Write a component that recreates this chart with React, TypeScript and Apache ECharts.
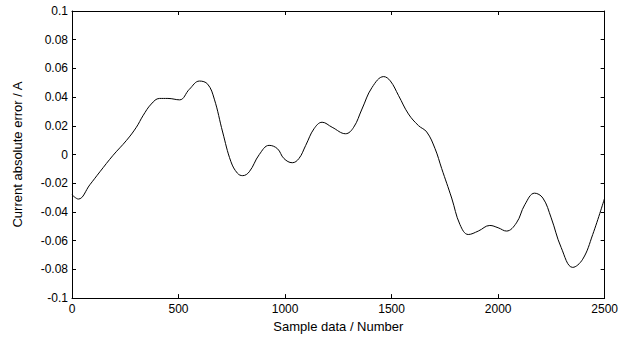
import React, { useEffect, useRef } from "react";
import * as echarts from "echarts";

const sampleIndex = [0, 30, 84, 131, 193, 256, 302, 333, 372, 411, 450, 505, 551, 598, 637, 668, 707, 746, 777, 801, 832, 879, 925, 964, 995, 1034, 1065, 1097, 1136, 1174, 1221, 1284, 1322, 1361, 1408, 1463, 1494, 1533, 1579, 1626, 1665, 1704, 1735, 1782, 1821, 1860, 1907, 1961, 2000, 2039, 2086, 2125, 2171, 2210, 2249, 2296, 2350, 2397, 2444, 2500];
const errorValues = [-0.028, -0.031, -0.021, -0.012, -0.0005, 0.0099, 0.019, 0.027, 0.0352, 0.0391, 0.0391, 0.0381, 0.0455, 0.0512, 0.049, 0.0386, 0.0157, -0.005, -0.0131, -0.0147, -0.012, 0.0, 0.0064, 0.0041, -0.0028, -0.0057, -0.0028, 0.0064, 0.018, 0.0225, 0.019, 0.0145, 0.019, 0.0317, 0.0467, 0.0543, 0.0513, 0.041, 0.0283, 0.0202, 0.0157, 0.0041, -0.0097, -0.0303, -0.0488, -0.0557, -0.0533, -0.0494, -0.051, -0.0533, -0.0476, -0.035, -0.0269, -0.0303, -0.0441, -0.0648, -0.0786, -0.0729, -0.0557, -0.0303];

const xTitle = "Sample data / Number";
const yTitle = "Current absolute error / A";

export default function App() {
  const ref = useRef<HTMLDivElement>(null);
  useEffect(() => {
    if (!ref.current) return;
    const chart = echarts.init(ref.current, null, { renderer: "svg" });
    const font = "'Liberation Sans', Arial, sans-serif";
    const fmtY = (v: number) => parseFloat(v.toFixed(2)).toString();
    const fmtX = (v: number) => String(Math.round(v));
    const axisLine = { show: true, onZero: false, lineStyle: { color: "#000", width: 1 } };
    const tick = { show: true, inside: true, length: 4, lineStyle: { color: "#000" } };
    chart.setOption({
      animation: false,
      backgroundColor: "#fff",
      grid: { left: 72, top: 11, right: 14, bottom: 37, containLabel: false },
      xAxis: [
        {
          type: "value", min: 0, max: 2500, interval: 500, position: "bottom",
          name: xTitle, nameLocation: "middle", nameGap: 20,
          nameTextStyle: { color: "#000", fontSize: 13, fontFamily: font },
          axisLine, axisTick: tick,
          axisLabel: { color: "#000", fontSize: 12, fontFamily: font, margin: 5, formatter: fmtX },
          splitLine: { show: false },
        },
        {
          type: "value", min: 0, max: 2500, interval: 500, position: "top",
          axisLine, axisTick: tick,
          axisLabel: { show: false }, splitLine: { show: false },
        },
      ],
      yAxis: [
        {
          type: "value", min: -0.1, max: 0.1, interval: 0.02, position: "left",
          name: yTitle, nameLocation: "middle", nameGap: 48,
          nameTextStyle: { color: "#000", fontSize: 13, fontFamily: font },
          axisLine, axisTick: tick,
          axisLabel: { color: "#000", fontSize: 12, fontFamily: font, margin: 4, formatter: fmtY },
          splitLine: { show: false },
        },
        {
          type: "value", min: -0.1, max: 0.1, interval: 0.02, position: "right",
          axisLine, axisTick: tick,
          axisLabel: { show: false }, splitLine: { show: false },
        },
      ],
      series: [
        {
          type: "line",
          data: sampleIndex.map((x, i) => [x, errorValues[i]]),
          smooth: 0.4,
          showSymbol: false,
          lineStyle: { color: "#000", width: 1 },
          xAxisIndex: 0, yAxisIndex: 0,
        },
      ],
    });
    return () => chart.dispose();
  }, []);
  return <div ref={ref} style={{ width: 621, height: 338, position: "absolute", left: 0, top: 0 }} />;
}
